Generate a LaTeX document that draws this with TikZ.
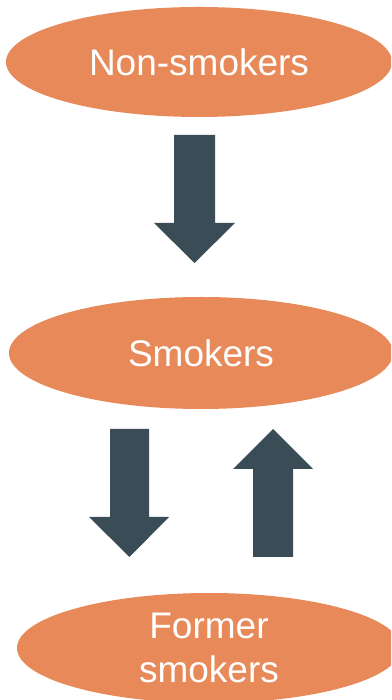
\documentclass[tikz,border=0pt]{standalone}
\usepackage{fontspec}
\setmainfont{Liberation Sans}
\usetikzlibrary{shapes.geometric}
\definecolor{oval}{HTML}{E8895A}
\definecolor{blockarrow}{HTML}{3A4D56}
\tikzset{
  stage/.style={ellipse, fill=oval, draw=none, inner sep=0pt, text=white,
    align=center, font=\fontsize{37}{44}\selectfont},
  barrow/.style={fill=blockarrow, draw=none}
}
\begin{document}
\begin{tikzpicture}[x=1pt,y=1pt]
\useasboundingbox (0,0) rectangle (391,700);
\clip (0,0) rectangle (391,700);
\fill[white] (0,0) rectangle (391,700);
\node[stage, minimum width=386pt, minimum height=110pt] (non) at (199,638) {Non-smokers};
\node[stage, minimum width=384pt, minimum height=112pt] (smk) at (201,347) {Smokers};
\node[stage, minimum width=384pt, minimum height=110pt] (former) at (209,52) {Former\\smokers};
% arrow non-smokers -> smokers
\fill[barrow] (174,565) -- (215,565) -- (215,477) -- (235,477) -- (194.5,437) -- (154,477) -- (174,477) -- cycle;
% arrow smokers -> former
\fill[barrow] (110,271) -- (149,271) -- (149,183) -- (169,183) -- (129.5,143) -- (89,183) -- (110,183) -- cycle;
% arrow former -> smokers
\fill[barrow] (253,143) -- (293,143) -- (293,231) -- (313,231) -- (273,271) -- (233,231) -- (253,231) -- cycle;
\end{tikzpicture}
\end{document}
